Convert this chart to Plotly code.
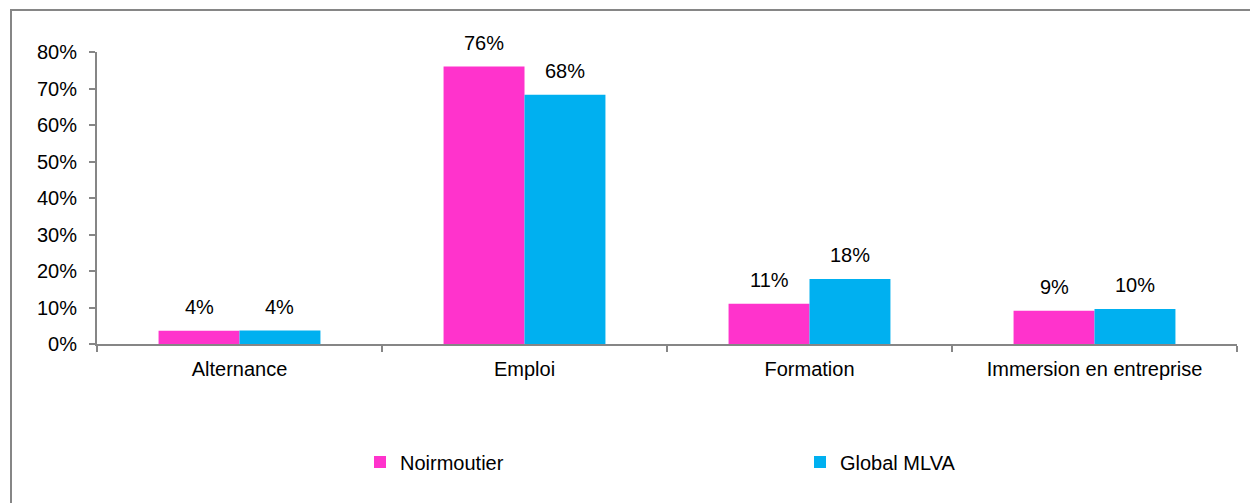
import plotly.graph_objects as go

categories = ["Alternance", "Emploi", "Formation", "Immersion en entreprise"]
noirmoutier = [0.036, 0.760, 0.110, 0.091]
global_mlva = [0.037, 0.683, 0.178, 0.096]
y_ticks = [0, 0.1, 0.2, 0.3, 0.4, 0.5, 0.6, 0.7, 0.8]

PINK = "#FF33CC"
BLUE = "#00B0F0"
AXIS = "#868686"
FONT = "Liberation Sans, Arial, sans-serif"
FS = 20

W, H = 1250, 503
ML, MR, MT, MB = 97, 13, 52, 159

fig = go.Figure()
fig.add_trace(go.Bar(name="Noirmoutier", x=categories, y=noirmoutier,
                     marker=dict(color=PINK, line=dict(width=0))))
fig.add_trace(go.Bar(name="Global MLVA", x=categories, y=global_mlva,
                     marker=dict(color=BLUE, line=dict(width=0))))

pw = W - ML - MR
ph = H - MT - MB
bar_px = pw / len(categories) * (1 - 0.432) / 2
annotations = []
for series, sign in ((noirmoutier, -1), (global_mlva, 1)):
    for c, v in zip(categories, series):
        annotations.append(dict(
            x=c, y=v, xref="x", yref="y", text=f"{round(v*100)}%",
            showarrow=False, xanchor="center", yanchor="bottom",
            xshift=sign * bar_px / 2, yshift=11,
            font=dict(family=FONT, size=FS, color="#000000")))

fig.add_shape(type="rect", xref="paper", yref="paper",
              x0=(11 - ML) / pw, x1=(W + 20 - ML) / pw,
              y0=-0.8, y1=1 + (MT - 10) / ph,
              line=dict(color=AXIS, width=2), fillcolor="rgba(0,0,0,0)", layer="below")

fig.update_layout(
    width=W, height=H,
    margin=dict(l=ML, r=MR, t=MT, b=MB, autoexpand=False),
    paper_bgcolor="white", plot_bgcolor="white",
    barmode="group", bargap=0.432, bargroupgap=0,
    font=dict(family=FONT, size=FS, color="#000000"),
    annotations=annotations,
    showlegend=True,
    legend=dict(orientation="h", x=(360 - ML) / pw, xanchor="left",
                y=-(462 - (H - MB)) / ph, yanchor="middle",
                entrywidth=395, entrywidthmode="pixels",
                itemwidth=30, bgcolor="rgba(0,0,0,0)",
                font=dict(family=FONT, size=FS, color="#000000")),
    xaxis=dict(showline=True, linecolor=AXIS, linewidth=2,
               ticks="outside", tickson="boundaries", ticklen=6,
               tickcolor=AXIS, tickwidth=2, showgrid=False,
               ticklabelstandoff=6,
               tickfont=dict(family=FONT, size=FS, color="#000000")),
    yaxis=dict(range=[0, 0.8], tickvals=y_ticks, tickformat=".0%",
               showline=True, linecolor=AXIS, linewidth=2,
               ticks="outside", ticklen=6, tickcolor=AXIS, tickwidth=2,
               showgrid=False, zeroline=False, ticklabelstandoff=8,
               tickfont=dict(family=FONT, size=FS, color="#000000")),
)

fig.write_html("out.html", config={"displayModeBar": False},
               post_script="document.body.style.margin='0';document.body.style.overflow='hidden';")
